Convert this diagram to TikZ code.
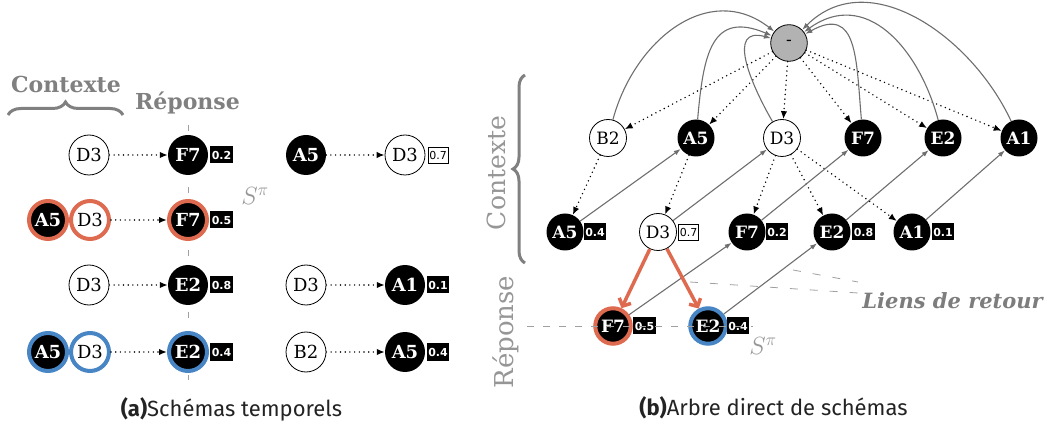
\documentclass[tikz,border=0pt]{standalone}
\usepackage{fontspec}
\setmainfont{DejaVu Serif}
\newfontfamily\capfont{Fira Sans}
\newfontfamily\boxfont{DejaVu Sans}
\usetikzlibrary{arrows.meta,decorations.pathreplacing}
\definecolor{ringred}{RGB}{222,107,80}
\definecolor{ringblue}{RGB}{72,133,197}
\definecolor{labgray}{RGB}{128,128,128}
\definecolor{lightlab}{RGB}{150,150,150}
\definecolor{liensgray}{RGB}{125,125,125}
\definecolor{arrgray}{RGB}{110,110,110}
\definecolor{rootgray}{RGB}{178,178,178}
\definecolor{dashgray}{RGB}{160,160,160}
\definecolor{captext}{RGB}{35,35,35}
\tikzset{
  wnode/.style={circle, draw=black, line width=0.8pt, fill=white, text=black, minimum size=40pt, inner sep=0pt, font=\fontsize{18}{18}\selectfont},
  bnode/.style={circle, draw=none, fill=black, text=white, minimum size=40pt, inner sep=0pt, font=\fontsize{18}{18}\selectfont\bfseries},
  rw/.style={wnode, minimum size=37pt, font=\fontsize{17}{17}\selectfont},
  rb/.style={bnode, minimum size=37pt, font=\fontsize{17}{17}\selectfont\bfseries},
  redring/.style={draw=ringred, line width=4pt, minimum size=38pt},
  bluering/.style={draw=ringblue, line width=4pt, minimum size=38pt},
  rootnode/.style={circle, draw=black, line width=0.8pt, fill=rootgray, minimum size=36.6pt, inner sep=0pt, font=\fontsize{17}{17}\selectfont},
  pbox/.style={rectangle, fill=black, text=white, inner xsep=1.3pt, inner ysep=1pt, minimum height=17pt, font=\boxfont\fontsize{11}{11}\selectfont\bfseries},
  wbox/.style={rectangle, draw=black, line width=0.6pt, fill=white, text=black, inner xsep=1.3pt, inner ysep=1pt, minimum height=16pt, font=\boxfont\fontsize{11}{11}\selectfont},
  dotarr/.style={draw=black, line width=1.6pt, line cap=round, dash pattern=on 0pt off 4.7pt, -{Latex[length=8pt,width=6.5pt]}},
  backarr/.style={draw=arrgray, line width=1.1pt, -{Latex[length=7pt,width=5pt]}},
  redarr/.style={draw=ringred, line width=3.5pt, -{Straight Barb[length=6pt,width=13pt]}},
  bracestyle/.style={draw=labgray, line width=3pt, decorate, decoration={brace, amplitude=13pt}},
  boldlab/.style={text=labgray, inner sep=0pt, anchor=base, font=\fontsize{22}{22}\selectfont\bfseries},
  rotlab/.style={text=lightlab, inner sep=0pt, anchor=base, rotate=90},
  caption/.style={text=captext, inner sep=0pt, anchor=base, font=\capfont\fontsize{22}{22}\selectfont},
  spilab/.style={text=lightlab, inner sep=0pt, font=\fontsize{24}{24}\selectfont},
}
\begin{document}
\begin{tikzpicture}[x=1pt,y=1pt]
\useasboundingbox (0,0) rectangle (1047,426);
% ---------------- left panel ----------------
\coordinate (vt) at (188,301);
\coordinate (vb) at (188,46);
\draw[draw=dashgray, line width=0.8pt, dash pattern=on 6pt off 25.25pt] (vt) -- (vb);

\node[boldlab] (ctxA) at (66,333) {Contexte};
\node[boldlab] (repA) at (187.5,316) {Réponse};
\draw[bracestyle] (8,311) -- (123,311);
\node[spilab] (spA) at (255,230) {$S^\pi$};

\node[wnode] (a1) at (89,271) {D3};
\node[bnode] (a2) at (188,271) {F7};
\node[pbox] (a2v) at (221.5,271) {0.2};
\node[bnode] (a3) at (306,271) {A5};
\node[wnode] (a4) at (405,271) {D3};
\node[wbox] (a4v) at (438,271) {0.7};

\node[bnode, redring] (b1) at (48,206) {A5};
\node[wnode, redring] (b2) at (90,206) {D3};
\node[bnode, redring] (b3) at (188,206) {F7};
\node[pbox] (b3v) at (221.5,206) {0.5};

\node[wnode] (c1) at (89,141) {D3};
\node[bnode] (c2) at (188,141) {E2};
\node[pbox] (c2v) at (221.5,141) {0.8};
\node[wnode] (c3) at (306,141) {D3};
\node[bnode] (c4) at (405,141) {A1};
\node[pbox] (c4v) at (438,141) {0.1};

\node[bnode, bluering] (d1) at (48,74) {A5};
\node[wnode, bluering] (d2) at (90,74) {D3};
\node[bnode, bluering] (d3) at (188,74) {E2};
\node[pbox] (d3v) at (221.5,74) {0.4};
\node[wnode] (d4) at (306,74) {B2};
\node[bnode] (d5) at (405,74) {A5};
\node[pbox] (d5v) at (438,74) {0.4};

\draw[dotarr] (a1) -- (a2);
\draw[dotarr] (a3) -- (a4);
\draw[dotarr] (b2) -- (b3);
\draw[dotarr] (c1) -- (c2);
\draw[dotarr] (c3) -- (c4);
\draw[dotarr] (d2) -- (d3);
\draw[dotarr] (d4) -- (d5);

\node[caption] (capA) at (231.5,10) {\textbf{(a)}Schémas temporels};

% ---------------- right panel ----------------
\node[rotlab, font=\fontsize{25}{25}\selectfont] (ctxB) at (505,253) {Contexte};
\node[rotlab, font=\fontsize{26}{26}\selectfont] (repB) at (513,94) {Réponse};
\draw[bracestyle, decoration={brace, amplitude=12pt}] (525,163) -- (525,351);

\node[rootnode] (r) at (789,383) {-};

\node[rw] (p1) at (608,288) {B2};
\node[rb] (p2) at (696,288) {A5};
\node[rw] (p3) at (782,288) {D3};
\node[rb] (p4) at (863,288) {F7};
\node[rb] (p5) at (943,288) {E2};
\node[rb] (p6) at (1019,288) {A1};

\node[rb] (q1) at (565,194) {A5};
\node[pbox] (q1v) at (595,194) {0.4};
\node[rw] (q2) at (658,194) {D3};
\node[wbox] (q2v) at (688.5,194) {0.7};
\node[rb] (q3) at (747,194) {F7};
\node[pbox] (q3v) at (777,194) {0.2};
\node[rb] (q4) at (832,194) {E2};
\node[pbox] (q4v) at (863.5,194) {0.8};
\node[rb] (q5) at (912,194) {A1};
\node[pbox] (q5v) at (943,194) {0.1};

\node[rb, redring, minimum size=35.5pt] (s1) at (613,100) {F7};
\node[pbox] (s1v) at (644.5,100) {0.5};
\node[rb, bluering, minimum size=35.5pt] (s2) at (708,100) {E2};
\node[pbox] (s2v) at (738,100) {0.4};

\foreach \t in {p1,p2,p3,p4,p5,p6} \draw[dotarr] (r) -- (\t);
\draw[dotarr] (p1) -- (q1);
\draw[dotarr] (p2) -- (q2);
\draw[dotarr] (p3) -- (q3);
\draw[dotarr] (p3) -- (q4);
\draw[dotarr] (p3) -- (q5);

\draw[backarr] (p1) to[out=75,in=142,looseness=1.15] (r);
\draw[backarr] (p2) to[out=85,in=157,looseness=1.5] (r);
\draw[backarr] (p3) to[out=120,in=165,looseness=1.4] (r);
\draw[backarr] (p4) to[out=95,in=29,looseness=1.5] (r);
\draw[backarr] (p5) to[out=105,in=36,looseness=1.2] (r);
\draw[backarr] (p6) to[out=115,in=45,looseness=1.05] (r);

\draw[backarr] (q1) -- (p2);
\draw[backarr] (q2) -- (p3);
\draw[backarr] (q3) -- (p4);
\draw[backarr] (q4) -- (p5);
\draw[backarr] (q5) -- (p6);
\draw[backarr] (s1) -- (q3);
\draw[backarr] (s2) -- (q4);

\draw[redarr] (q2) -- (s1);
\draw[redarr] (q2) -- (s2);

\coordinate (hl) at (527,100);
\coordinate (hr) at (753,100);
\draw[draw=dashgray, line width=0.8pt, dash pattern=on 7pt off 9pt] (hl) -- (hr);

\node[spilab] (spB) at (763,80) {$S^\pi$};

\node[text=liensgray, inner sep=0pt, anchor=base east, font=\fontsize{21}{21}\selectfont\bfseries\itshape] (liens) at (1043,117) {Liens de retour};
\coordinate (lr1) at (793,156);
\coordinate (le1) at (858,144);
\coordinate (lr2) at (690,144);
\coordinate (le2) at (858,133);
\draw[draw=dashgray, line width=0.8pt, dash pattern=on 8pt off 12pt] (lr1) -- (le1);
\draw[draw=dashgray, line width=0.8pt, dash pattern=on 8pt off 12pt] (lr2) -- (le2);

\node[caption] (capB) at (773.5,11) {\textbf{(b)}Arbre direct de schémas};
\end{tikzpicture}
\end{document}
